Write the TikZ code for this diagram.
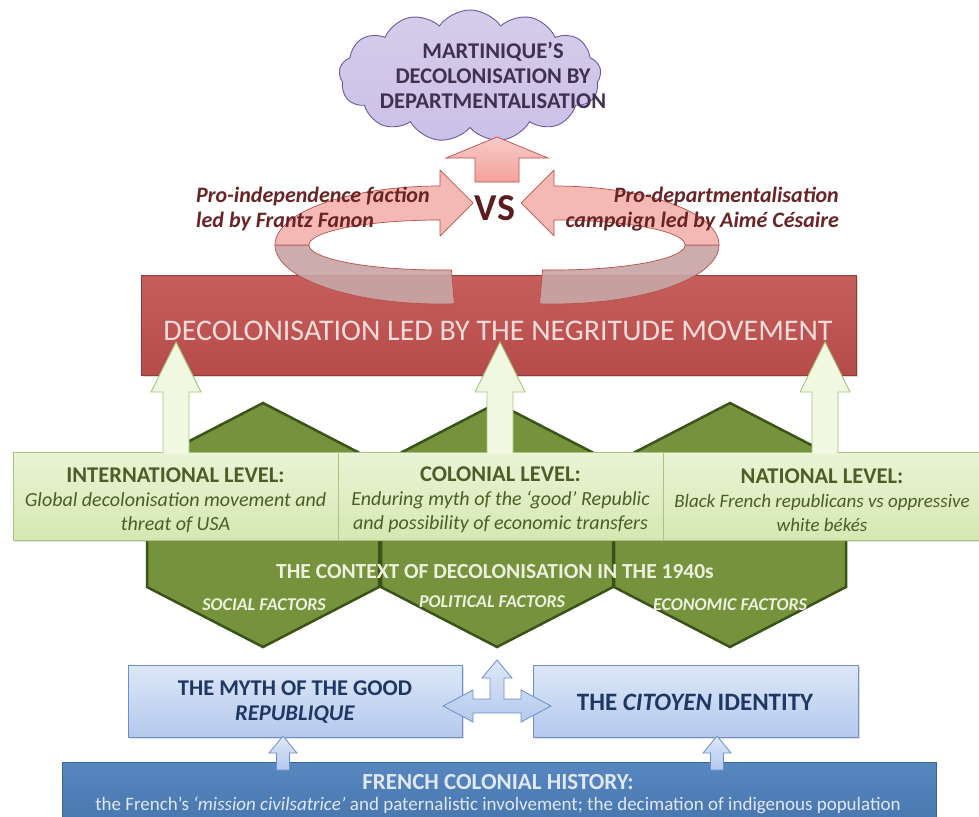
\documentclass[tikz,border=0pt]{standalone}
\usepackage{fontspec}
\setmainfont{Carlito}
\usetikzlibrary{shapes.symbols,shadows}
\definecolor{hexfill}{HTML}{76923C}
\definecolor{hexline}{HTML}{3B5218}
\definecolor{levtop}{HTML}{EAF4D6}
\definecolor{levbot}{HTML}{D5E8B2}
\definecolor{levline}{HTML}{A9C47D}
\definecolor{levtext}{HTML}{4A5E26}
\definecolor{garrfill}{HTML}{F0F8E1}
\definecolor{garrline}{HTML}{A9C47D}
\definecolor{redfill}{HTML}{C0504D}
\definecolor{redline}{HTML}{8F3B39}
\definecolor{redtext}{HTML}{F2DCDB}
\definecolor{pinkfill}{HTML}{F4B4AE}
\definecolor{pinkline}{HTML}{B8504C}
\definecolor{ringgrey}{HTML}{C8A5A5}
\definecolor{vscol}{HTML}{5A1E20}
\definecolor{labcol}{HTML}{6A2426}
\definecolor{cloudfill}{HTML}{CBC0E6}
\definecolor{cloudline}{HTML}{6A5A9A}
\definecolor{cloudtext}{HTML}{403151}
\definecolor{bluetop}{HTML}{DDE7F7}
\definecolor{bluebot}{HTML}{B4C9EE}
\definecolor{blueline}{HTML}{6D8FC8}
\definecolor{bluetext}{HTML}{1F3763}
\definecolor{darkblue}{HTML}{4F81BD}
\definecolor{darkblueline}{HTML}{3B6496}
\definecolor{paleblue}{HTML}{E0E8F3}
\definecolor{hextext}{HTML}{EBF1DE}
\begin{document}
\begin{tikzpicture}[x=1pt,y=-1pt,
  hexstyle/.style={fill=hexfill,draw=hexline,line width=2.5pt,line join=miter},
  levelbox/.style={draw=levline,line width=0.8pt,top color=levtop,bottom color=levbot,minimum width=325,minimum height=88,inner sep=0,drop shadow={shadow xshift=2pt,shadow yshift=-2pt,opacity=0.25}},
  leveltext/.style={align=center,text=levtext,inner sep=0,font=\fontsize{20}{24}\selectfont},
  garrfillst/.style={fill=garrfill},
  garrlinest/.style={draw=garrline,line width=0.9pt,line join=miter},
  redbox/.style={draw=redline,line width=0.8pt,top color=redfill!92!white,bottom color=redfill!95!black,minimum width=715,minimum height=100,inner sep=0,drop shadow={shadow xshift=2pt,shadow yshift=-2pt,opacity=0.3}},
  pinkst/.style={fill=pinkfill,fill opacity=0.92,draw=pinkline,line width=0.7pt,line join=round},
  greyst/.style={fill=ringgrey,fill opacity=0.92,draw=pinkline,line width=0.7pt,line join=round},
  bluebox/.style={draw=blueline,line width=0.8pt,top color=bluetop,bottom color=bluebot,inner sep=0,drop shadow={shadow xshift=2pt,shadow yshift=-2pt,opacity=0.25}},
  bluearr/.style={draw=blueline,line width=0.8pt,top color=bluetop,bottom color=bluebot,line join=miter},
  labst/.style={text=labcol,inner sep=0,font=\fontsize{22}{25}\selectfont\bfseries\itshape},
  hexlab/.style={text=hextext,inner sep=0,font=\fontsize{18}{20}\selectfont\bfseries\itshape}
]
\useasboundingbox (0,0) rectangle (979,816);
\fill[white] (0,0) rectangle (979,816);

% ---------- hexagons ----------
\foreach \c in {263,497,730}{
  \draw[hexstyle] (\c,403) -- ({\c+116},463) -- ({\c+116},587) -- (\c,647) -- ({\c-116},587) -- ({\c-116},463) -- cycle;
}

% ---------- red box ----------
\node[redbox] (neg) at (498.5,325) {};
\node[text=redtext,inner sep=0,font=\fontsize{30}{32}\selectfont] (negtext) at (498,331) {DECOLONISATION LED BY THE NEGRITUDE MOVEMENT};

% ---------- level boxes ----------
\node[levelbox] (lev1) at (175.5,496) {};
\node[levelbox] (lev2) at (500.5,496) {};
\node[levelbox] (lev3) at (825.5,496) {};
\node[leveltext] (lt1) at (175.5,500) {{\fontsize{22.5}{24}\selectfont\bfseries INTERNATIONAL LEVEL:}\\ \textit{Global decolonisation movement and}\\ \textit{threat of USA}};
\node[leveltext] (lt2) at (500.5,500) {{\fontsize{22.5}{24}\selectfont\bfseries COLONIAL LEVEL:}\\ \textit{Enduring myth of the ‘good’ Republic}\\ \textit{and possibility of economic transfers}};
\node[leveltext,font=\fontsize{19}{24}\selectfont] (lt3) at (822,500) {{\fontsize{22.5}{24}\selectfont\bfseries NATIONAL LEVEL:}\\ \textit{Black French republicans vs oppressive}\\ \textit{white békés}};

% ---------- green up arrows ----------
\foreach \c in {176,500,825}{
  \fill[garrfillst] (\c,342) -- ({\c+25},392) -- ({\c+13},392) -- ({\c+13},453.5) -- ({\c-13},453.5) -- ({\c-13},392) -- ({\c-25},392) -- cycle;
  \draw[garrlinest] ({\c-13},452.6) -- ({\c-13},392) -- ({\c-25},392) -- (\c,342) -- ({\c+25},392) -- ({\c+13},392) -- ({\c+13},452.6);
}

% ---------- hexagon texts ----------
\node[text=hextext,inner sep=0,font=\fontsize{21.5}{22}\selectfont\bfseries] (ctx) at (495,572) {THE CONTEXT OF DECOLONISATION IN THE 1940s};
\node[hexlab] (soc) at (264,605) {SOCIAL FACTORS};
\node[hexlab] (pol) at (492,602) {POLITICAL FACTORS};
\node[hexlab] (eco) at (730,605) {ECONOMIC FACTORS};

% ---------- curved arrows ----------
% left ring
\path[greyst] (275,245) -- plot[domain=180:85,samples=40] ({440+165*cos(\x)},{245+59*sin(\x)})
   -- plot[domain=85:180,samples=40] ({440+131*cos(\x)},{245+25*sin(\x)}) -- cycle;
\path[pinkst] (440,220) -- (440,236) -- (473,203) -- (440,170) -- (440,186)
   -- plot[domain=270:180,samples=40] ({440+165*cos(\x)},{245+59*sin(\x)})
   -- plot[domain=180:270,samples=40] ({440+131*cos(\x)},{245+25*sin(\x)}) -- cycle;
% right ring
\path[greyst] (719,245) -- plot[domain=0:95,samples=40] ({554+165*cos(\x)},{245+59*sin(\x)})
   -- plot[domain=95:0,samples=40] ({554+131*cos(\x)},{245+25*sin(\x)}) -- cycle;
\path[pinkst] (554,220) -- (554,236) -- (521,203) -- (554,170) -- (554,186)
   -- plot[domain=270:360,samples=40] ({554+165*cos(\x)},{245+59*sin(\x)})
   -- plot[domain=360:270,samples=40] ({554+131*cos(\x)},{245+25*sin(\x)}) -- cycle;

% ---------- cloud ----------
\node[cloud,cloud puffs=13,cloud puff arc=110,aspect=2,draw=cloudline,line width=0.9pt,
      top color=cloudfill!80!white,bottom color=cloudfill,minimum width=262,minimum height=132,inner sep=0] (cloud) at (470,76) {};
\node[align=center,text=cloudtext,inner sep=0,font=\fontsize{22.5}{25}\selectfont\bfseries] (cloudtext) at (493,75) {MARTINIQUE’S\\ DECOLONISATION BY\\ DEPARTMENTALISATION};

% ---------- up arrow to cloud ----------
\path[draw=pinkline,line width=0.7pt,top color=pinkfill!70!white,bottom color=pinkfill!90!red,line join=miter]
  (497,137) -- (548,158) -- (519,158) -- (519,182) -- (475,182) -- (475,158) -- (446,158) -- cycle;

% ---------- VS and labels ----------
\node[text=vscol,inner sep=0,font=\fontsize{38}{40}\selectfont\bfseries] (vs) at (495,208) {VS};
\node[labst,anchor=west,align=left] (pro1) at (196,209) {Pro-independence faction\\led by Frantz Fanon};
\node[labst,anchor=east,align=right] (pro2) at (839,209) {Pro-departmentalisation\\campaign led by Aimé Césaire};

% ---------- bottom section ----------
\node[draw=darkblueline,line width=0.8pt,top color=darkblue!95!white,bottom color=darkblue!92!black,minimum width=874,minimum height=60,inner sep=0] (hist) at (499,792) {};
\node[text=paleblue,inner sep=0,font=\fontsize{23}{24}\selectfont\bfseries] (histh) at (498,782) {FRENCH COLONIAL HISTORY:};
\node[text=paleblue,inner sep=0,font=\fontsize{19}{20}\selectfont] (histt) at (498,805) {the French’s \textit{‘mission civilsatrice’} and paternalistic involvement; the decimation of indigenous population};

\node[bluebox,minimum width=334,minimum height=72] (myth) at (295,701) {};
\node[bluebox,minimum width=325,minimum height=72] (cit) at (695.5,701) {};
\node[align=center,text=bluetext,inner sep=0,font=\fontsize{22.5}{25}\selectfont\bfseries] (mytht) at (295,702) {THE MYTH OF THE GOOD\\ \textit{REPUBLIQUE}};
\node[text=bluetext,inner sep=0,font=\fontsize{25}{26}\selectfont\bfseries] (citt) at (695,702) {THE \textit{CITOYEN} IDENTITY};

% three-way arrow
\path[bluearr] (443,706) -- (473,690) -- (473,699) -- (490,699) -- (490,678) -- (482,678) -- (497,660) -- (512,678) -- (504,678) -- (504,699) -- (521,699) -- (521,690) -- (551,706) -- (521,722) -- (521,713) -- (473,713) -- (473,722) -- cycle;
% small up arrows
\foreach \c in {283,717}{
  \path[bluearr] (\c,736) -- ({\c+14},753) -- ({\c+6.5},753) -- ({\c+6.5},770) -- ({\c-6.5},770) -- ({\c-6.5},753) -- ({\c-14},753) -- cycle;
}
\end{tikzpicture}
\end{document}
